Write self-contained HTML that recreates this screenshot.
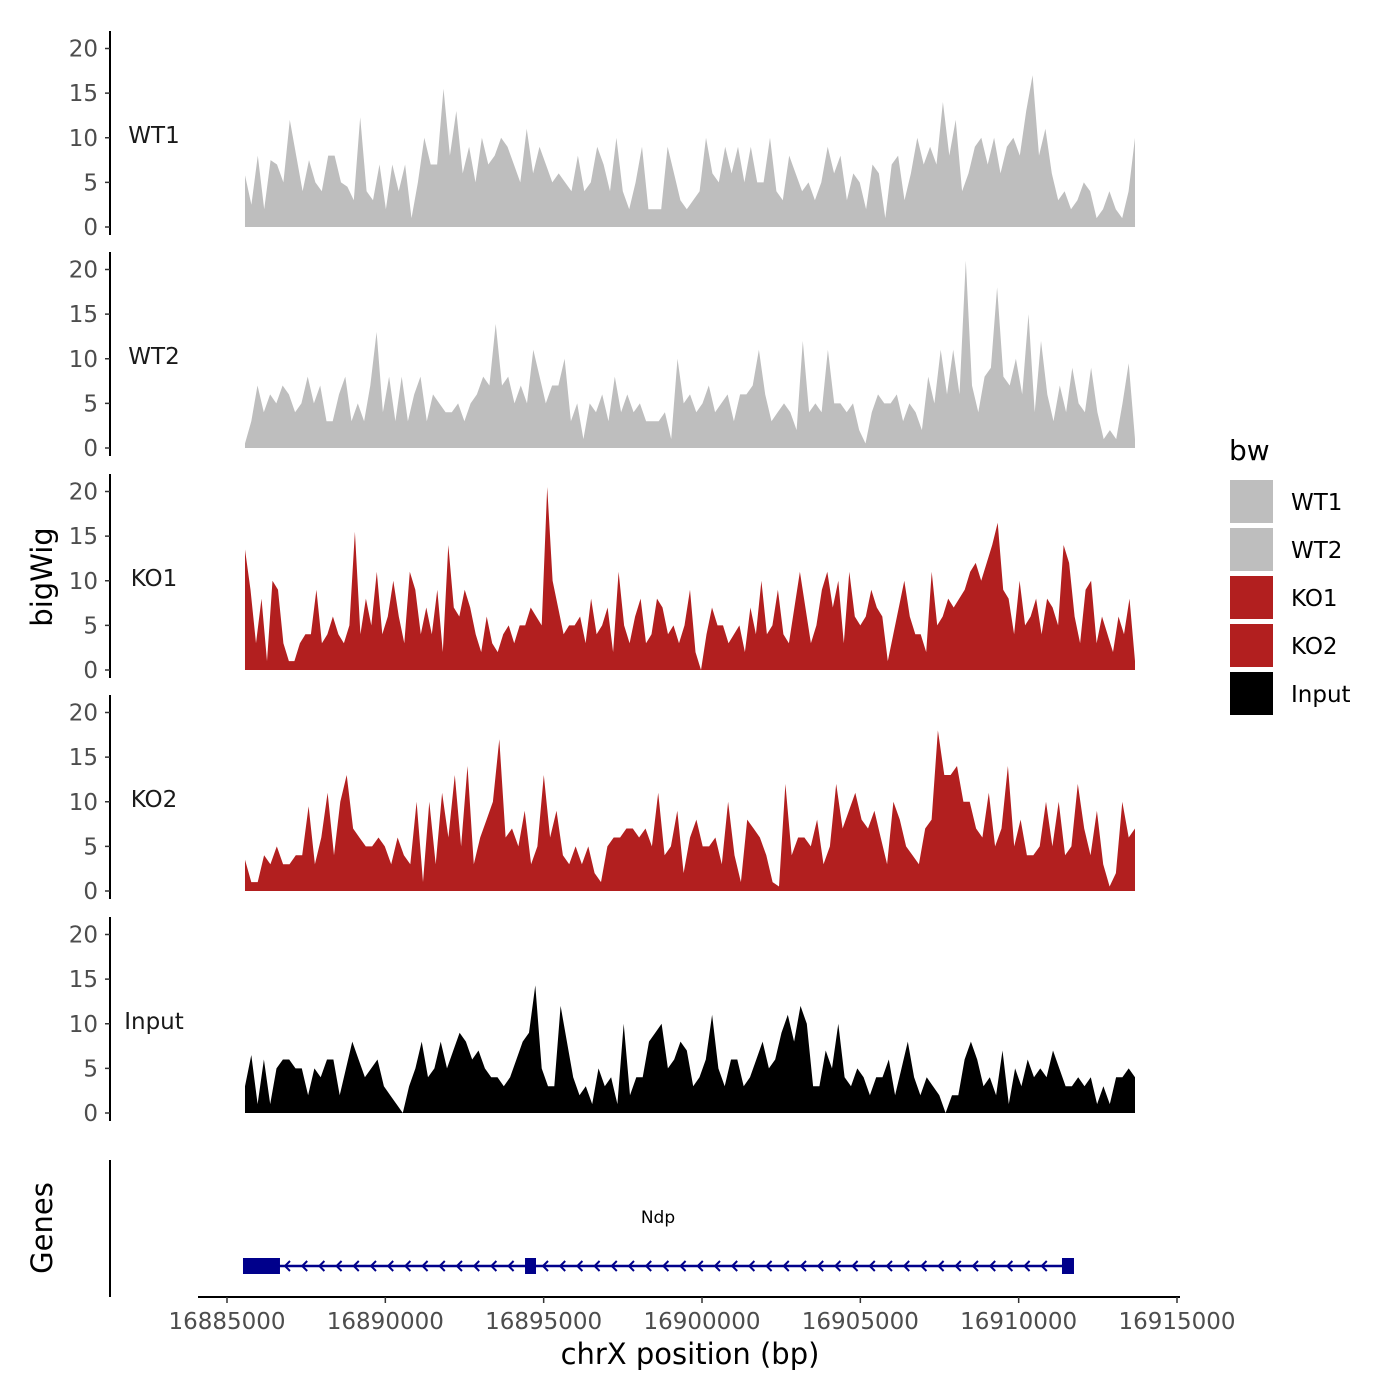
<!DOCTYPE html>
<html><head><meta charset="utf-8"><style>
body{margin:0;background:#fff;font-family:"DejaVu Sans","Liberation Sans",sans-serif}
svg{display:block}
</style></head><body>
<svg id="chart" width="1400" height="1400" xmlns="http://www.w3.org/2000/svg">
</svg>
<script>
const trackNames = ["WT1","WT2","KO1","KO2","Input"];
const trackColors = ["#bebebe","#bebebe","#b21f1f","#b21f1f","#000000"];
const wt1Values = [5.8,2.5,8,2,7.5,7,5,12,8,4,7.5,5,4,8,8,5,4.5,3,12.3,4,3,7,2,7,4,7,1,5,10,7,7,15.5,8,13,6,9,5,10,7,8,10,9,7,5,11,6,9,7,5,6,5,4,8,4,5,9,7,4,10,4,2,5,9,2,2,2,9,6,3,2,3,4,10,6,5,9,6,9,5,9,5,5,10,4,3,8,6,4,5,3,5,9,6,8,3,6,5,2,7,6,1,7,8,3,6,10,7,9,7,14,8,12,4,6,9,10,7,10,6,9,10,8,13,17,8,11,6,3,4,2,3,5,4,1,2,4,2,1,4,10];
const wt2Values = [0.5,3,7,4,6,5,7,6,4,5,8,5,7,3,3,6,8,3,5,3,7,13,4,8,3,8,3,6,8,3,6,5,4,4,5,3,5,6,8,7,13.9,7,8,5,7,5,11,8,5,7,7,10,3,5,1,5,4,6,3,8,4,6,4,5,3,3,3,4,1,10,5,6,4,5,7,4,5,6,3,6,6,7,11,6,3,4,5,4,2,12,4,5,4,11,5,5,4,5,2,0.5,4,6,5,5,6,3,5,4,2,8,5,11,6,11,6,21,7,4,8,9,18,8,7,10,6,15,4,12,6,3,7,4,9,5,4,9,4,1,2,1,5,9.5,1];
const ko1Values = [13.5,9,3,8,1,10,9,3,1,1,3,4,4,9,3,4,6,4,3,5,15.5,4,8,5,11,4,6,10,6,3,11,9,4,7,4,9,2,14,7,6,9,7,4,2,6,3,2,4,5,3,5,5,7,6,5,20.5,10,7,4,5,5,6,3,8,4,5,7,2,11,5,3,6,8,3,4,8,7,4,5,3,5,9,2,0,4,7,5,5,3,4,5,2,7,4,10,4,5,9,4,3,7,11,7,3,5,9,11,7,10,3,11,6,5,6,9,7,6,1,4,7,10,6,4,4,2,11,5,6,8,7,8,9,11,12,10,12,14,16.5,9,8,4,10,5,6,8,4,8,7,5,14,12,6,3,9,10,3,6,4,2,6,4,8,1];
const ko2Values = [3.5,1,1,4,3,5,3,3,4,4,9.5,3,6,11,4,10,13,7,6,5,5,6,5,3,6,4,3,10,1,10,3,11,6,13,5,14,3,6,8,10,17,6,7,5,9,3,5,13,6,9,4,3,5,3,5,2,1,5,6,6,7,7,6,7,5,11,4,5,9,2,6,8,5,5,6,3,10,4,1,8,7,6,4,1,0.5,12,4,6,6,5,8,3,5,12,7,9,11,8,7,9,6,3,10,8,5,4,3,7,8,18,13,13,14,10,10,7,6,11,5,7,14,5,8,4,4,5,10,5,10,4,5,12,7,4,9,3,0.5,2,10,6,7];
const inputValues = [3,6.5,1,6,1,5,6,6,5,5,2,5,4,6,6,2,5,8,6,4,5,6,3,2,1,0,3,5,8,4,5,8,5,7,9,8,6,7,5,4,4,3,4,6,8,9,14.3,5,3,3,12,8,4,2,3,1,5,3,4,1,10,2,4,4,8,9,10,5,6,8,7,3,4,6,11,5,3,6,6,3,4,6,8,5,6,9,11,8,12,10,3,3,7,5,10,4,3,5,4,2,4,4,6,2,5,8,4,2,4,3,2,0,2,2,6,8,6,3,4,2,7,1,5,3,6,4,5,4,7,5,3,3,4,3,4,1,3,1,4,4,5,4];
const allValues = [wt1Values,wt2Values,ko1Values,ko2Values,inputValues];
const yTicks = [0,5,10,15,20];
const xTicks = [16885000,16890000,16895000,16900000,16905000,16910000,16915000];
const dataStart = 16885568, dataEnd = 16913674;
const geneStart = 16885568, geneEnd = 16911400;
const exons = [[16885505,16886673],[16894411,16894758],[16911368,16911747]];

const NS="http://www.w3.org/2000/svg";
const svg=document.getElementById('chart');
function mk(t,a,p){const e=document.createElementNS(NS,t);for(const k in a)e.setAttribute(k,a[k]);(p||svg).appendChild(e);return e;}
function xs(v){return 227+(v-16885000)*950/30000;}
const zeroY=[227,448,670,891,1113];
function ys(i,v){return zeroY[i]-v*178.5/20;}

for(let i=0;i<5;i++){
  const g=mk('g',{});
  
  
  const vals=allValues[i];const n=vals.length;
  let d='M'+xs(dataStart)+','+ys(i,0);
  vals.forEach((v,j)=>{const x=xs(dataStart+(dataEnd-dataStart)*j/(n-1));d+=' L'+x.toFixed(1)+','+ys(i,v).toFixed(1);});
  d+=' L'+xs(dataEnd)+','+ys(i,0)+' Z';
  const p=mk('path',{d:d,fill:trackColors[i]},g);
  
  
  const ax=mk('line',{x1:110,x2:110,y1:zeroY[i]-196,y2:zeroY[i]+8,stroke:'#000','stroke-width':2},g);
  
  
  yTicks.forEach(t=>{
    const y=ys(i,t);
    mk('line',{x1:105,x2:110,y1:y,y2:y,stroke:'#333','stroke-width':1.5},g);
    const tx=mk('text',{x:98,y:y+8,'text-anchor':'end','font-size':23,fill:'#4d4d4d'},g);
    tx.textContent=t;
    
    
  });
  const lb=mk('text',{x:154,y:ys(i,10)+5,'text-anchor':'middle','font-size':23,fill:'#1a1a1a'},g);
  lb.textContent=trackNames[i];
  
  
}
const yt=mk('text',{x:0,y:0,transform:'translate(52,577) rotate(-90)','text-anchor':'middle','font-size':29});
yt.textContent='bigWig';



const gg=mk('g',{});


mk('line',{x1:110,x2:110,y1:1160,y2:1297,stroke:'#000','stroke-width':2},gg);
const gt=mk('text',{x:0,y:0,transform:'translate(52,1228) rotate(-90)','text-anchor':'middle','font-size':29},gg);
gt.textContent='Genes';


mk('line',{x1:xs(geneStart),x2:xs(geneEnd),y1:1266,y2:1266,stroke:'#00008b','stroke-width':2.5},gg);
for(let x=xs(geneStart)+40;x<xs(geneEnd)-10;x+=17.2){
  mk('path',{d:`M${x+5},${1261} L${x},${1266} L${x+5},${1271}`,fill:'none',stroke:'#00008b','stroke-width':2},gg);
}
exons.forEach(e=>{
  const r=mk('rect',{x:xs(e[0]),y:1258,width:xs(e[1])-xs(e[0]),height:16,fill:'#00008b'},gg);
  
  
});
const gn=mk('text',{x:658,y:1223,'text-anchor':'middle','font-size':17},gg);
gn.textContent='Ndp';



const xa=mk('g',{});


mk('line',{x1:198,x2:1180,y1:1297,y2:1297,stroke:'#000','stroke-width':2},xa);
xTicks.forEach(t=>{
  const x=xs(t);
  mk('line',{x1:x,x2:x,y1:1297,y2:1303,stroke:'#333','stroke-width':1.5},xa);
  const tx=mk('text',{x:x,y:1329,'text-anchor':'middle','font-size':23,fill:'#4d4d4d'},xa);
  tx.textContent=t;
  
  
});
const xt=mk('text',{x:690,y:1364,'text-anchor':'middle','font-size':29});
xt.textContent='chrX position (bp)';



const lg=mk('g',{});


const lt=mk('text',{x:1229,y:460,'font-size':28},lg);
lt.textContent='bw';


trackNames.forEach((n,i)=>{
  const y=480+i*48;
  const r=mk('rect',{x:1230,y:y,width:43,height:43,fill:trackColors[i]},lg);
  
  
  const t=mk('text',{x:1291,y:y+30,'font-size':23},lg);
  t.textContent=n;
  
  
});
</script>
</body></html>
